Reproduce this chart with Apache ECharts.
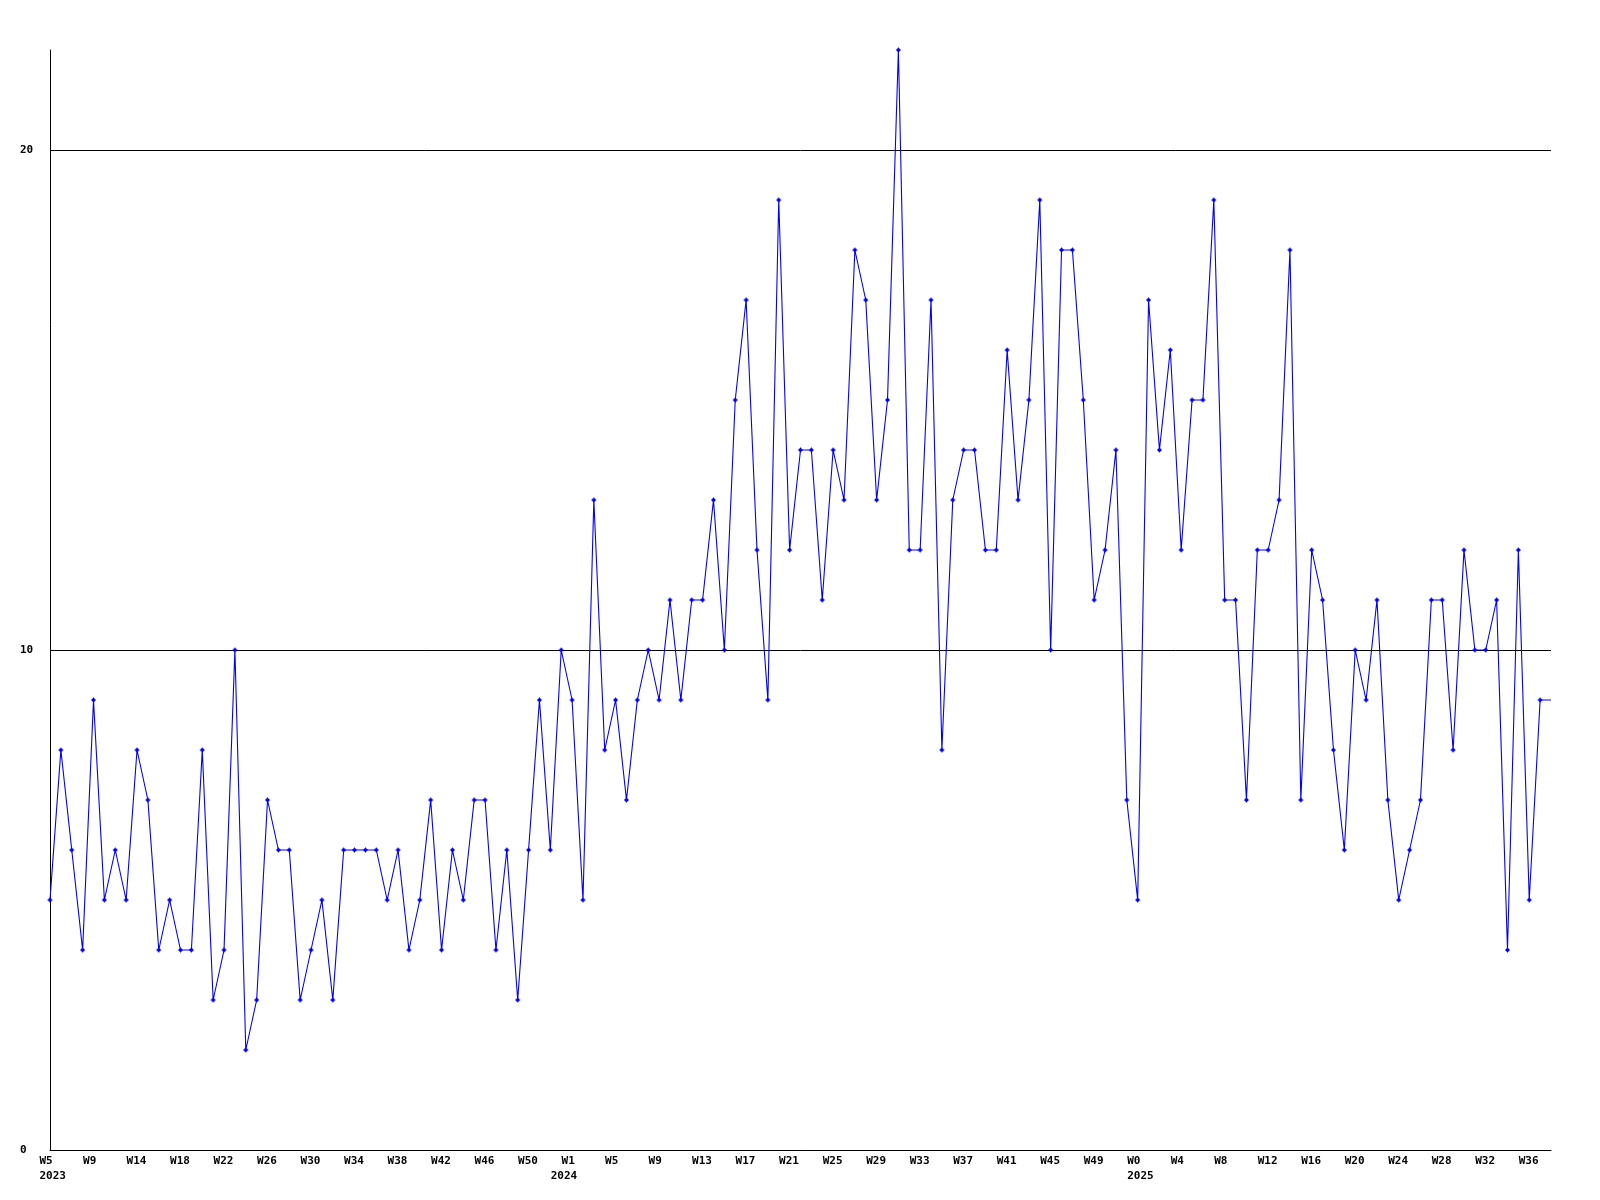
<!DOCTYPE html>
<html>
<head>
<meta charset="utf-8">
<style>
  html, body { margin: 0; padding: 0; background: #fff; }
  #chart { width: 1600px; height: 1200px; }
</style>
<script src="https://cdn.jsdelivr.net/npm/echarts@6/dist/echarts.min.js"></script>
</head>
<body>
<div id="chart"></div>
<script>
// Weekly values, first point = 2023 W5
const values = [
  5, 8, 6, 4, 9, 5, 6, 5, 8, 7,
  4, 5, 4, 4, 8, 3, 4, 10, 2, 3,
  7, 6, 6, 3, 4, 5, 3, 6, 6, 6,
  6, 5, 6, 4, 5, 7, 4, 6, 5, 7,
  7, 4, 6, 3, 6, 9, 6, 10, 9, 5,
  13, 8, 9, 7, 9, 10, 9, 11, 9, 11,
  11, 13, 10, 15, 17, 12, 9, 19, 12, 14,
  14, 11, 14, 13, 18, 17, 13, 15, 22, 12,
  12, 17, 8, 13, 14, 14, 12, 12, 16, 13,
  15, 19, 10, 18, 18, 15, 11, 12, 14, 7,
  5, 17, 14, 16, 12, 15, 15, 19, 11, 11,
  7, 12, 12, 13, 18, 7, 12, 11, 8, 6,
  10, 9, 11, 7, 5, 6, 7, 11, 11, 8,
  12, 10, 10, 11, 4, 12, 5, 9
];

// Week tick labels, one every 4th point
const weekTicks = [
  'W5', 'W9', 'W14', 'W18', 'W22', 'W26', 'W30', 'W34', 'W38', 'W42', 'W46', 'W50',
  'W1', 'W5', 'W9', 'W13', 'W17', 'W21', 'W25', 'W29', 'W33', 'W37', 'W41', 'W45', 'W49',
  'W0', 'W4', 'W8', 'W12', 'W16', 'W20', 'W24', 'W28', 'W32', 'W36'
];
const tickStep = 4;

// Year labels keyed by the index of the first week of that year
const yearTicks = { 0: '2023', 47: '2024', 100: '2025' };

// Y tick labels
const yTicks = [0, 10, 20];

// Categories: one per week, plus a trailing slot the line runs out to
const categories = values.map((v, i) => 'w' + i).concat(['end']);
const seriesData = values.map(v => v).concat([
  { value: values[values.length - 1], symbol: 'none' }
]);

const FONT = '"DejaVu Sans Mono", monospace';

const chart = echarts.init(document.getElementById('chart'), null, { renderer: 'canvas' });
chart.setOption({
  animation: false,
  backgroundColor: '#ffffff',
  grid: { left: 50, right: 49, top: 50, bottom: 50, containLabel: false },
  xAxis: [
    {
      type: 'category',
      data: categories,
      boundaryGap: false,
      position: 'bottom',
      axisLine: { show: true, onZero: false, lineStyle: { color: '#000', width: 1 } },
      axisTick: { show: false },
      splitLine: { show: false },
      axisLabel: {
        interval: tickStep - 1,
        margin: 6,
        formatter: (val, idx) => (idx % tickStep === 0 && weekTicks[idx / tickStep]) ? '{t|' + weekTicks[idx / tickStep] + '}' : '',
        rich: {
          t: { width: 21, align: 'left', fontFamily: FONT, fontWeight: 'bold', fontSize: 11, color: '#000' }
        }
      }
    },
    {
      type: 'category',
      data: categories,
      boundaryGap: false,
      position: 'bottom',
      axisLine: { show: false },
      axisTick: { show: false },
      splitLine: { show: false },
      axisLabel: {
        interval: 0,
        margin: 21,
        formatter: (val, idx) => yearTicks[idx] ? '{t|' + yearTicks[idx] + '}' : '',
        rich: {
          t: { width: 21, align: 'left', fontFamily: FONT, fontWeight: 'bold', fontSize: 11, color: '#000' }
        }
      }
    }
  ],
  yAxis: {
    type: 'value',
    min: 0,
    max: 22,
    interval: 10,
    axisLine: { show: true, lineStyle: { color: '#000', width: 1 } },
    axisTick: { show: false },
    splitLine: {
      show: true,
      lineStyle: { color: ['#000', '#000', '#000', 'rgba(0,0,0,0)'], width: 1 }
    },
    axisLabel: {
      margin: 30,
      align: 'left',
      fontFamily: FONT,
      fontWeight: 'bold',
      fontSize: 11,
      color: '#000',
      formatter: v => yTicks.indexOf(v) >= 0 ? String(v) : ''
    }
  },
  series: [
    {
      type: 'line',
      xAxisIndex: 0,
      data: seriesData,
      symbol: 'path://M2,0H3V1H4V2H5V3H4V4H3V5H2V4H1V3H0V2H1V1H2Z',
      symbolSize: 5,
      showAllSymbol: true,
      lineStyle: { color: '#0000ff', width: 1.1 },
      itemStyle: { color: '#0000ff' },
      emphasis: { disabled: true }
    }
  ]
});
</script>
</body>
</html>
